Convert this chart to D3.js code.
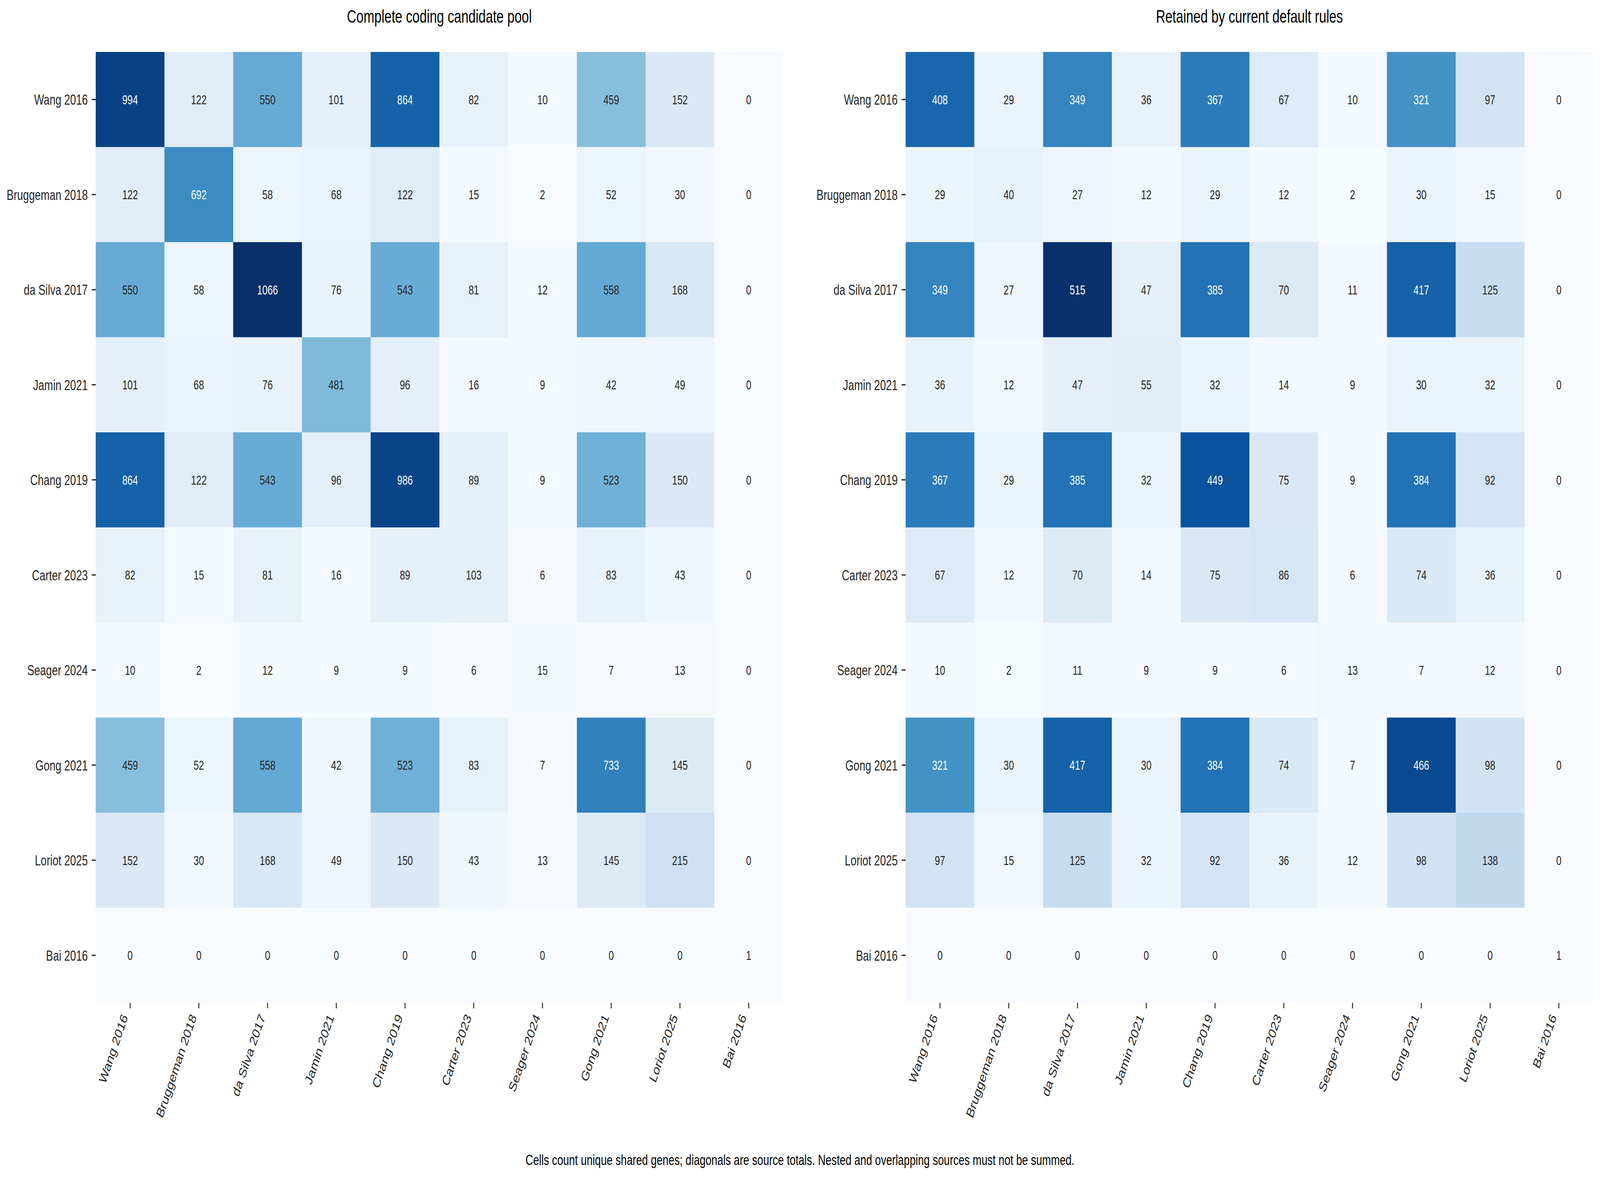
<!DOCTYPE html>
<html>
<head>
<meta charset="utf-8">
<script src="https://cdn.jsdelivr.net/npm/d3@7"></script>
<style>
  html, body { margin: 0; padding: 0; background: #fff; overflow: hidden; }
  svg { display: block; width: 100vw; height: 100vh; }
  text { font-family: "Liberation Sans", Arial, Helvetica, sans-serif; }
</style>
</head>
<body>
<!-- drawn in the reference's 5666x3019 units, stretched to whatever the window is -->
<svg id="chart" viewBox="0 0 5666 3019" preserveAspectRatio="none"></svg>
<script>
// sources (same order on both axes)
var sources = ['Wang 2016', 'Bruggeman 2018', 'da Silva 2017', 'Jamin 2021', 'Chang 2019',
               'Carter 2023', 'Seager 2024', 'Gong 2021', 'Loriot 2025', 'Bai 2016'];

// complete coding candidate pool, row by row
var poolCounts = [
  [994, 122, 550, 101, 864, 82, 10, 459, 152, 0],
  [122, 692, 58, 68, 122, 15, 2, 52, 30, 0],
  [550, 58, 1066, 76, 543, 81, 12, 558, 168, 0],
  [101, 68, 76, 481, 96, 16, 9, 42, 49, 0],
  [864, 122, 543, 96, 986, 89, 9, 523, 150, 0],
  [82, 15, 81, 16, 89, 103, 6, 83, 43, 0],
  [10, 2, 12, 9, 9, 6, 15, 7, 13, 0],
  [459, 52, 558, 42, 523, 83, 7, 733, 145, 0],
  [152, 30, 168, 49, 150, 43, 13, 145, 215, 0],
  [0, 0, 0, 0, 0, 0, 0, 0, 0, 1]
];

// retained by current default rules
var retainedCounts = [
  [408, 29, 349, 36, 367, 67, 10, 321, 97, 0],
  [29, 40, 27, 12, 29, 12, 2, 30, 15, 0],
  [349, 27, 515, 47, 385, 70, 11, 417, 125, 0],
  [36, 12, 47, 55, 32, 14, 9, 30, 32, 0],
  [367, 29, 385, 32, 449, 75, 9, 384, 92, 0],
  [67, 12, 70, 14, 75, 86, 6, 74, 36, 0],
  [10, 2, 11, 9, 9, 6, 13, 7, 12, 0],
  [321, 30, 417, 30, 384, 74, 7, 466, 98, 0],
  [97, 15, 125, 32, 92, 36, 12, 98, 138, 0],
  [0, 0, 0, 0, 0, 0, 0, 0, 0, 1]
];

var panelTitles = ['Complete coding candidate pool', 'Retained by current default rules'];
var footnote = 'Cells count unique shared genes; diagonals are source totals. Nested and overlapping sources must not be summed.';

var blues = ['#f7fbff', '#deebf7', '#c6dbef', '#9ecae1', '#6baed6', '#4292c6', '#2171b5', '#08519c', '#08306b'];

var svg = d3.select('#chart');

var top0 = 133, bottom0 = 2568;
var tickLen = 14, tickPad = 14;
var labelSize = 37.5, annotSize = 33.3, titleSize = 45.8;
var angle = 65;

function drawPanel(matrix, left, right, title) {
    var ScaleX = d3.scaleBand().domain(sources).range([left, right]);
    var ScaleY = d3.scaleBand().domain(sources).range([top0, bottom0]);

    // each panel scaled to its own max, 0 = lightest
    var vmax = d3.max(matrix, function(r){ return d3.max(r); });
    var color = d3.scaleLinear()
        .domain(blues.map(function(d, i){ return vmax * i / (blues.length - 1); }))
        .range(blues)
        .interpolate(d3.interpolateRgb);

    var cells = [];
    matrix.forEach(function(row, i){
        row.forEach(function(v, j){
            cells.push({row: sources[i], col: sources[j], value: v});
        });
    });

    var g = svg.append('g');

    g.selectAll('rect')
        .data(cells)
        .enter()
        .append('rect')
        .attr('x', function(d){ return ScaleX(d.col); })
        .attr('y', function(d){ return ScaleY(d.row); })
        .attr('width', ScaleX.bandwidth() + 0.5)
        .attr('height', ScaleY.bandwidth() + 0.5)
        .attr('fill', function(d){ return color(d.value); });

    g.selectAll('text.annot')
        .data(cells)
        .enter()
        .append('text')
        .attr('class', 'annot')
        .attr('x', function(d){ return ScaleX(d.col) + ScaleX.bandwidth() / 2; })
        .attr('y', function(d){ return ScaleY(d.row) + ScaleY.bandwidth() / 2; })
        .attr('dy', '0.36em')
        .attr('text-anchor', 'middle')
        .attr('font-size', annotSize)
        .attr('fill', function(d){ return d.value > 0.6 * vmax ? '#ffffff' : '#262626'; })
        .text(function(d){ return d.value; });

    // y axis
    var yAxis = svg.append('g')
        .attr('transform', 'translate(' + left + ',0)')
        .call(d3.axisLeft(ScaleY).tickSize(tickLen).tickPadding(tickPad));
    yAxis.select('.domain').remove();
    yAxis.selectAll('line').attr('stroke', '#262626').attr('stroke-width', 3.33);
    yAxis.selectAll('text')
        .attr('font-size', labelSize)
        .attr('fill', '#262626')
        .attr('font-family', '"Liberation Sans", Arial, sans-serif')
        .attr('dy', '0.36em');

    // x axis, labels rotated and right-aligned on the tick
    var rad = angle * Math.PI / 180;
    var asc = 0.73 * labelSize, desc = 0.21 * labelSize;
    var xAxis = svg.append('g')
        .attr('transform', 'translate(0,' + bottom0 + ')')
        .call(d3.axisBottom(ScaleX).tickSize(tickLen).tickPadding(0));
    xAxis.select('.domain').remove();
    xAxis.selectAll('line').attr('stroke', '#262626').attr('stroke-width', 3.33);
    xAxis.selectAll('text')
        .attr('font-size', labelSize)
        .attr('fill', '#262626')
        .attr('font-family', '"Liberation Sans", Arial, sans-serif')
        .attr('text-anchor', 'end')
        .attr('y', 0)
        .attr('dy', 0)
        .attr('transform', 'translate(' + (-desc * Math.sin(rad)) + ',' + (tickLen + 11 + asc * Math.cos(rad)) + ') rotate(' + (-angle) + ')');

    svg.append('text')
        .attr('x', (left + right) / 2)
        .attr('y', 58)
        .attr('text-anchor', 'middle')
        .attr('font-size', titleSize)
        .attr('fill', '#000')
        .text(title);
}

drawPanel(poolCounts, 339, 2773, panelTitles[0]);
drawPanel(retainedCounts, 3207, 5642, panelTitles[1]);

svg.append('text')
    .attr('x', 2833)
    .attr('y', 2983)
    .attr('text-anchor', 'middle')
    .attr('font-size', 37.5)
    .attr('fill', '#000')
    .text(footnote);
</script>
</body>
</html>
